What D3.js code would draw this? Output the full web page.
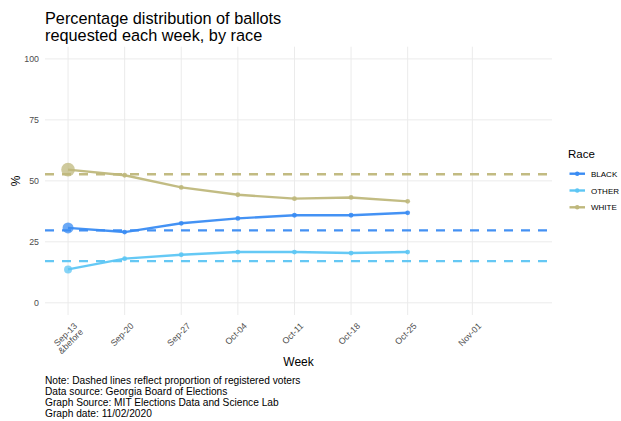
<!DOCTYPE html>
<html><head><meta charset="utf-8">
<script src="https://cdn.jsdelivr.net/npm/d3@7"></script>
<style>
body{margin:0;background:#fff;}
svg{font-family:"Liberation Sans",Arial,sans-serif;}
</style></head>
<body><svg id="c" width="621" height="421"></svg>
<script>
// ---- data ----
const weekLabels = ["Sep-13\n&before","Sep-20","Sep-27","Oct-04","Oct-11","Oct-18","Oct-25","Nov-01"];
const weekTickDays = [0,7,14,21,28,35,42,50];
const dataDays = [0,7,14,21,28,35,42];
const races = ["BLACK","OTHER","WHITE"];
const blackPct = [30.7,29.0,32.6,34.6,35.9,35.9,36.9];
const otherPct = [13.7,18.1,19.7,20.8,20.8,20.4,20.8];
const whitePct = [54.6,52.3,47.3,44.3,42.7,43.2,41.6];
const registeredPct = [29.7,17.1,52.7];
const yTicks = [0,25,50,75,100];
const captionLines = ["Note: Dashed lines reflect proportion of registered voters","Data source: Georgia Board of Elections","Graph Source: MIT Elections Data and Science Lab","Graph date: 11/02/2020"];

// ---- styles ----
const colors = {BLACK:"#3a8cf3", OTHER:"#5dc6f4", WHITE:"#bfb87c"};
const firstR = {BLACK:5.5, OTHER:4, WHITE:6.8};

const svg = d3.select("#c");
const P = {l:45, r:552, t:46.7, b:315};
const x = d3.scaleLinear().domain([0-2.85,57+2.85]).range([P.l,P.r]);
const y = d3.scaleLinear().domain([-5,105]).range([P.b,P.t]);

// grid
const g = svg.append("g");
g.selectAll(".hg").data(yTicks).join("line")
 .attr("x1",P.l).attr("x2",P.r).attr("y1",d=>y(d)).attr("y2",d=>y(d))
 .attr("stroke","#ebebeb").attr("stroke-width",1);
g.selectAll(".vg").data(weekTickDays).join("line")
 .attr("y1",P.t).attr("y2",P.b).attr("x1",d=>x(d)).attr("x2",d=>x(d))
 .attr("stroke","#ebebeb").attr("stroke-width",1);

// y axis
const yAxis = d3.axisLeft(y).tickValues(yTicks).tickSize(0).tickPadding(5);
const ya = svg.append("g").attr("transform",`translate(${P.l-1},0)`).call(yAxis);
ya.select(".domain").remove();
ya.selectAll("text").attr("fill","#4d4d4d").style("font-size","8.8px").attr("font-family","Liberation Sans, Arial, sans-serif");

// x axis
const xa = svg.append("g").attr("transform",`translate(0,${P.b})`);
weekTickDays.forEach((d,i)=>{
  const lines = weekLabels[i].split("\n");
  const t = xa.append("text")
    .attr("transform",`translate(${x(d)+5},${7}) rotate(-45)`)
    .attr("text-anchor","end").attr("fill","#4d4d4d").style("font-size","8.8px");
  lines.forEach((ln,j)=>{
    t.append("tspan").attr("x",0).attr("y",6.5 + j*8.5).text(ln);
  });
});

// dashed registered lines
const seriesVals = [blackPct, otherPct, whitePct];
races.forEach((r,i)=>{
  svg.append("line").attr("x1",P.l).attr("x2",P.r)
   .attr("y1",y(registeredPct[i])).attr("y2",y(registeredPct[i]))
   .attr("stroke",colors[r]).attr("stroke-width",2.4).attr("stroke-dasharray","9,8")
   .attr("opacity",0.95);
});

// series lines and points
const line = d3.line().x(d=>x(d[0])).y(d=>y(d[1]));
races.forEach((r,i)=>{
  const pts = dataDays.map((d,k)=>[d,seriesVals[i][k]]);
  svg.append("path").datum(pts).attr("d",line).attr("fill","none")
    .attr("stroke",colors[r]).attr("stroke-width",2.4).attr("opacity",0.95);
  svg.append("g").selectAll("circle").data(pts).join("circle")
    .attr("cx",d=>x(d[0])).attr("cy",d=>y(d[1]))
    .attr("r",(d,k)=>k===0?firstR[r]:2.4)
    .attr("fill",colors[r]).attr("opacity",(d,k)=>k===0?0.75:0.9);
});

// axis titles
svg.append("text").attr("x",(P.l+P.r)/2).attr("y",366).attr("text-anchor","middle")
  .style("font-size","12px").attr("fill","#000").text("Week");
svg.append("text").attr("transform",`translate(20,${(P.t+P.b)/2}) rotate(-90)`)
  .attr("text-anchor","middle").style("font-size","12px").attr("fill","#000").text("%");

// title
const title = svg.append("text").attr("x",45).attr("fill","#000").style("font-size","16.3px");
title.append("tspan").attr("x",45).attr("y",23.5).text("Percentage distribution of ballots");
title.append("tspan").attr("x",45).attr("y",41).text("requested each week, by race");

// caption
svg.append("g").selectAll("text").data(captionLines).join("text")
  .attr("x",45).attr("y",(d,i)=>384+i*11).style("font-size","10.2px").attr("fill","#000").text(d=>d);

// legend
const lg = svg.append("g");
lg.append("text").attr("x",568).attr("y",157.5).style("font-size","11.5px").attr("fill","#000").text("Race");
races.forEach((r,i)=>{
  const yy = 173.7 + i*16.8;
  lg.append("line").attr("x1",569.5).attr("x2",585).attr("y1",yy).attr("y2",yy)
    .attr("stroke",colors[r]).attr("stroke-width",2.4);
  lg.append("circle").attr("cx",577.2).attr("cy",yy).attr("r",2.2).attr("fill",colors[r]);
  lg.append("text").attr("x",591).attr("y",yy+3).style("font-size","8px").attr("fill","#000").text(r);
});
</script></body></html>
